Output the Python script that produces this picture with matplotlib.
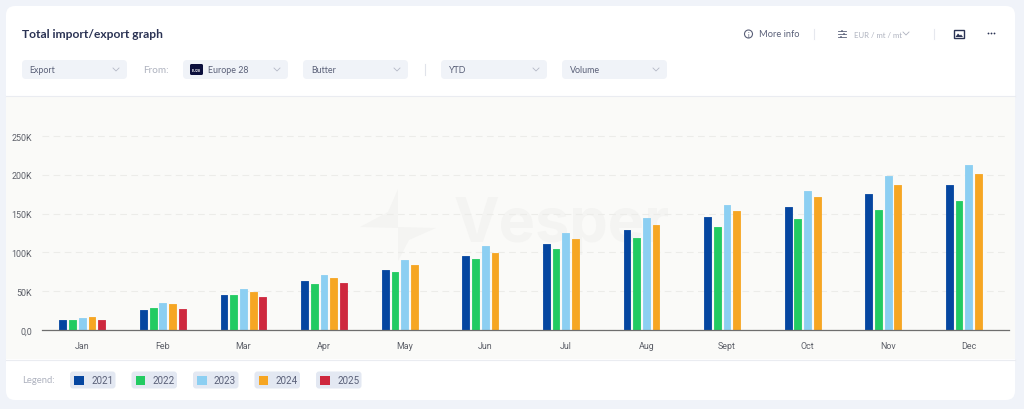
import matplotlib
matplotlib.use("Agg")
import matplotlib.pyplot as plt
from matplotlib.patches import FancyBboxPatch, Rectangle, Polygon, Circle
import numpy as np

months = ["Jan", "Feb", "Mar", "Apr", "May", "Jun", "Jul", "Aug", "Sept", "Oct", "Nov", "Dec"]
v2021 = [12.5, 26.3, 45.6, 63.6, 77.8, 95, 111, 129.4, 145.2, 158.6, 175, 187.4]
v2022 = [13.4, 28.5, 45.2, 59.4, 75.3, 91.6, 104.9, 118.7, 132.4, 143, 154.7, 165.9]
v2023 = [16, 35, 53.4, 71, 89.9, 108.8, 124.6, 144, 161.2, 179.6, 199, 212.7]
v2024 = [16.9, 34, 49, 67, 83.9, 99.8, 117.8, 135.8, 153.5, 172, 187.4, 201]
v2025 = [13.4, 27.2, 43, 61]
years = ["2021", "2022", "2023", "2024", "2025"]
series = [v2021, v2022, v2023, v2024, v2025]
colors = ["#0546A0", "#22CB62", "#8CCFF2", "#F6A623", "#CE283E"]
yticks = [0, 50, 100, 150, 200, 250]
ylabels = ["0,0", "50K", "100K", "150K", "200K", "250K"]

plt.rcParams["font.family"] = ["Lato", "DejaVu Sans"]
W, H = 1024, 410
fig = plt.figure(figsize=(W / 100, H / 100), dpi=100, facecolor="#F0F3F9")
bg = fig.add_axes([0, 0, 1, 1])
bg.set_xlim(0, W); bg.set_ylim(H, 0); bg.axis("off")

NAVY = "#2B3354"; GREY = "#5A6078"; PALE = "#AEB2BF"; PILL = "#F0F3F8"

def rbox(x, y, w, h, r, fc, ec="none", z=1, lw=0):
    bg.add_patch(FancyBboxPatch((x + r, y + r), w - 2 * r, h - 2 * r,
                                boxstyle=f"round,pad={r},rounding_size={r}",
                                fc=fc, ec=ec, lw=lw, zorder=z))

def chevron(cx, cy, c="#B4B9C6", s=3):
    bg.plot([cx - s, cx, cx + s], [cy - 1.5, cy + 1.5, cy - 1.5], color=c, lw=0.6, zorder=3)

# card and chart band
rbox(6, 7, 1009, 394, 9, "white")
bg.add_patch(Rectangle((6, 97), 1009, 263, fc="#FAFAF8", ec="none", zorder=1.2))
bg.plot([6, 1015], [96.5, 96.5], color="#EAECF1", lw=0.8, zorder=1.3)
bg.plot([6, 1015], [360.5, 360.5], color="#EAECF1", lw=0.8, zorder=1.3)

# header
bg.text(22, 35, "Total import/export graph", fontsize=8.65, fontweight="bold", color=NAVY, va="center", zorder=3)
bg.text(758.7, 34.5, "More info", fontsize=6.7, color=GREY, va="center", zorder=3)
bg.add_patch(Circle((748.5, 35), 4, fc="none", ec=GREY, lw=0.8, zorder=3))
bg.text(748.5, 35, "i", fontsize=5, color=GREY, ha="center", va="center", zorder=3)
bg.text(853.5, 35, "EUR / mt / mt", fontsize=5.6, color=PALE, va="center", zorder=3)
chevron(906, 34.5, PALE, 3)
for yy, kx in ((32, 842), (35, 844), (38, 841)):
    bg.plot([838, 846], [yy, yy], color=GREY, lw=0.6, zorder=3)
    bg.add_patch(Circle((kx, yy), 0.9, fc=GREY, ec="none", zorder=3))
for sx in (813.5, 933.5):
    bg.plot([sx, sx], [30, 40], color="#E6E8EE", lw=0.8, zorder=3)
# folder icon and dots
bg.add_patch(Rectangle((954, 31), 9.5, 8, fc="none", ec=NAVY, lw=1, zorder=3))
bg.add_patch(Polygon([[955.5, 38], [958, 34.5], [960, 36.5], [961, 35.5], [963, 38]], fc=NAVY, ec="none", zorder=3))
for dx in (988.5, 991.5, 994.5):
    bg.add_patch(Circle((dx, 34.5), 0.9, fc=NAVY, ec="none", zorder=3))

# selector pills
pills = [(22, 105, "Export", 29.5), (183, 105, "Europe 28", 208), (303, 105, "Butter", 311.5),
         (441, 106, "YTD", 449), (562, 105, "Volume", 569.5)]
for px, pw, lab, tx in pills:
    rbox(px, 61, pw, 19, 4, PILL, z=2)
    bg.text(tx, 70.5, lab, fontsize=6.4, color=GREY, va="center", zorder=3)
    chevron(px + pw - 11, 70.5)
bg.text(143, 70.5, "From:", fontsize=7.2, color=PALE, va="center", zorder=3)
bg.plot([424.5, 424.5], [65, 76], color="#E0E3EA", lw=0.8, zorder=3)
rbox(190, 65, 13, 11, 1.5, "#0B0F3C", z=3)
bg.text(196.5, 70.5, "EU28", fontsize=2.6, color="white", ha="center", va="center", fontweight="bold", zorder=4)

# watermark
WM = "#F4F4F2"
bg.add_patch(Polygon([[398, 190], [388, 213], [360, 228], [398, 229]], fc=WM, ec="none", zorder=1.4))
bg.add_patch(Polygon([[398, 228], [436, 229], [409, 241], [398, 262]], fc=WM, ec="none", zorder=1.4))
bg.text(454, 226, "Vesper", fontsize=44, fontweight="bold", color=WM, va="center",
        family=["Inter", "DejaVu Sans"], zorder=1.4)

# chart (axes frame mapped to pixels)
left, right, top, bottom = 42, 1009, 100, 331
ax = fig.add_axes([left / W, 1 - bottom / H, (right - left) / W, (bottom - top) / H])
ax.patch.set_alpha(0)
ax.set_xlim(-0.5, 11.5)
ax.set_ylim(0, (bottom - top) / 38.8 * 50)
x = np.arange(len(months))
step, bw = 0.1205, 0.084
for i, (vals, c) in enumerate(zip(series, colors)):
    bars = ax.bar(x[:len(vals)] + (i - 2) * step, vals, width=bw, color=c, edgecolor=c, linewidth=0.6, zorder=3)
    for b in bars:
        b.set_joinstyle("round")
ax.set_yticks(yticks, ylabels)
ax.set_xticks(x, months)
ax.tick_params(length=0, labelsize=6.4, labelcolor="#5C5F68")
ax.tick_params(axis="x", pad=7.8)
ax.tick_params(axis="y", pad=7.3)
for lb in ax.get_xticklabels() + ax.get_yticklabels():
    lb.set_fontfamily(["Roboto", "DejaVu Sans"])
ax.grid(axis="y", color="#ECECE9", lw=0.8, dashes=(6, 4), zorder=1)
ax.set_axisbelow(True)
for s in ("top", "right", "left"):
    ax.spines[s].set_visible(False)
ax.spines["bottom"].set_color("#6E6E6E")
ax.spines["bottom"].set_linewidth(0.9)
ax.spines["bottom"].set_zorder(4)

# legend
bg.text(22, 381, "Legend:", fontsize=6.8, color=PALE, va="center", zorder=3)
for i, (yr, c) in enumerate(zip(years, colors)):
    lx = 70 + i * 61.5
    rbox(lx, 372.5, 45.5, 17, 3, "#E3E8F2", z=2)
    bg.add_patch(Rectangle((lx + 4, 376.5), 9.5, 9, fc=c, ec="none", zorder=3))
    bg.text(lx + 21, 381, yr, fontsize=7, color=GREY, va="center", zorder=3, family=["Roboto", "DejaVu Sans"])

fig.savefig("out.png", dpi=100, facecolor=fig.get_facecolor())
